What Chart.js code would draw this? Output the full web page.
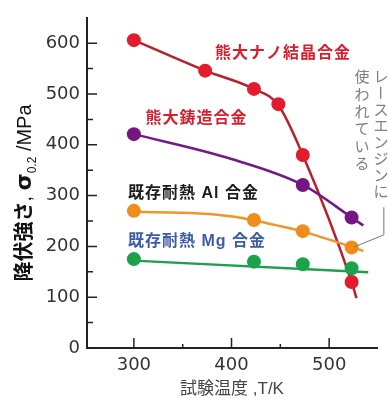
<!DOCTYPE html>
<html>
<head>
<meta charset="utf-8">
<script src="https://cdn.jsdelivr.net/npm/chart.js@4.4.1/dist/chart.umd.min.js"></script>
<style>
html, body { margin: 0; padding: 0; background: #fff; }
#wrap { width: 388px; height: 398px; position: relative; }
</style>
</head>
<body>
<div id="wrap"><canvas id="myChart"></canvas></div>
<script>
// mesures (points) : temperature K / limite elastique MPa
const tempNano = [300, 373, 423, 448, 473, 523];
const valNano  = [606, 546, 510, 480, 380, 130];
const tempCast = [300, 473, 523];
const valCast  = [421, 321, 257];
const tempAl   = [300, 423, 473, 523];
const valAl    = [270, 252, 230, 198];
const tempMg   = [300, 423, 473, 523];
const valMg    = [175, 170, 165, 157];

// courbes lissees
const courbeNanoT = [300, 373, 423, 448, 473, 523, 528];
const courbeNanoV = [606, 546, 510, 478, 380, 130, 98];
const courbeCastT = [300, 400, 473, 523, 535];
const courbeCastV = [421, 372, 321, 257, 241];
const courbeAlT   = [300, 367, 401, 423, 473, 523, 535];
const courbeAlV   = [268, 265, 259, 251, 229, 199, 191];
const courbeMgT   = [300, 540];
const courbeMgV   = [172, 149];

// axes
const xTicks = [300, 400, 500];
const xMinor = [350, 450];
const yTicks = [0, 100, 200, 300, 400, 500, 600];
const yMinor = [50, 150, 250, 350, 450, 550];

// etiquettes
const labelTexts  = ['熊大ナノ結晶合金', '熊大鋳造合金', '既存耐熱 Al 合金', '既存耐熱 Mg 合金'];
const labelColors = ['#d61f2c', '#d61f2c', '#1c1c1c', '#3d5ca8'];
const labelT = [383, 312, 294, 294];
const labelV = [579, 451, 304, 209];
const noteCols = ['レースエンジンに', '使われている'];
const bracketT = [525.6, 556, 556];
const bracketV = [199, 222.6, 277];

function pts(xs, ys) {
    return xs.map((x, i) => ({ x: x, y: ys[i] }));
}

function courbe(xs, ys, color, order) {
    return {
        data: pts(xs, ys),
        showLine: true,
        borderColor: color,
        borderWidth: 2.5,
        pointRadius: 0,
        cubicInterpolationMode: 'monotone',
        order: order
    };
}

function points(xs, ys, color) {
    return {
        data: pts(xs, ys),
        showLine: false,
        backgroundColor: color,
        borderColor: color,
        borderWidth: 0,
        pointRadius: 7,
        pointHoverRadius: 7,
        order: 1
    };
}

const cjk = '"Noto Sans CJK JP", sans-serif';

// ticks vers l'interieur, titre Y, annotations
const extras = {
    id: 'extras',
    afterDraw(chart) {
        const ctx = chart.ctx;
        const xs = chart.scales.x;
        const ys = chart.scales.y;
        const area = chart.chartArea;
        ctx.save();
        ctx.strokeStyle = '#222';
        ctx.lineWidth = 1.5;
        ctx.beginPath();
        yTicks.forEach(v => {
            const py = ys.getPixelForValue(v);
            ctx.moveTo(area.left, py); ctx.lineTo(area.left + 10, py);
        });
        yMinor.forEach(v => {
            const py = ys.getPixelForValue(v);
            ctx.moveTo(area.left, py); ctx.lineTo(area.left + 6, py);
        });
        xTicks.forEach(v => {
            const px = xs.getPixelForValue(v);
            ctx.moveTo(px, area.bottom); ctx.lineTo(px, area.bottom - 10);
        });
        xMinor.forEach(v => {
            const px = xs.getPixelForValue(v);
            ctx.moveTo(px, area.bottom); ctx.lineTo(px, area.bottom - 4);
        });
        ctx.stroke();

        // titre axe Y avec indice
        const runs = [
            { t: '降伏強さ', f: 'bold 20px ' + cjk, dy: 0 },
            { t: ', ', f: '20px "Liberation Sans"', dy: 0 },
            { t: 'σ', f: 'bold 22px "DejaVu Sans"', dy: 0 },
            { t: '0.2', f: '12px "Liberation Sans"', dy: 5 },
            { t: ' /MPa', f: '20px "Liberation Sans"', dy: 0 }
        ];
        let total = 0;
        runs.forEach(r => { ctx.font = r.f; r.w = ctx.measureText(r.t).width; total += r.w; });
        ctx.translate(24, 193);
        ctx.rotate(-Math.PI / 2);
        ctx.fillStyle = '#111';
        ctx.textBaseline = 'alphabetic';
        ctx.textAlign = 'left';
        let cx = -total / 2;
        runs.forEach(r => {
            ctx.font = r.f;
            ctx.fillText(r.t, cx, 7 + r.dy);
            cx += r.w;
        });
        ctx.setTransform(1, 0, 0, 1, 0, 0);
        ctx.restore();

        // noms des alliages
        ctx.save();
        ctx.textBaseline = 'middle';
        ctx.textAlign = 'left';
        ctx.letterSpacing = '1px';
        labelTexts.forEach((t, i) => {
            ctx.font = 'bold 16px "Liberation Sans", ' + cjk;
            ctx.fillStyle = labelColors[i];
            ctx.fillText(t, xs.getPixelForValue(labelT[i]), ys.getPixelForValue(labelV[i]));
        });
        ctx.restore();

        // texte vertical
        ctx.save();
        ctx.font = '15px ' + cjk;
        ctx.fillStyle = '#808080';
        ctx.textAlign = 'center';
        ctx.textBaseline = 'middle';
        const colX = [381, 362];
        const pitch = [16.5, 17.3];
        noteCols.forEach((col, c) => {
            for (let i = 0; i < col.length; i++) {
                const ch = col[i];
                ctx.save();
                ctx.translate(colX[c], 68 + pitch[c] * i + pitch[c] / 2);
                if (ch === 'ー') ctx.rotate(Math.PI / 2);
                ctx.fillText(ch, 0, 0);
                ctx.restore();
            }
        });
        // crochet vers le point orange
        ctx.strokeStyle = '#777';
        ctx.lineWidth = 1;
        ctx.beginPath();
        bracketT.forEach((t, i) => {
            const px = xs.getPixelForValue(t), py = ys.getPixelForValue(bracketV[i]);
            if (i === 0) ctx.moveTo(px, py); else ctx.lineTo(px, py);
        });
        ctx.stroke();
        ctx.restore();
    }
};

const ctx = document.getElementById('myChart').getContext('2d');
const myChart = new Chart(ctx, {
    type: 'scatter',
    data: {
        datasets: [
            courbe(courbeNanoT, courbeNanoV, '#b8202b', 9),
            courbe(courbeCastT, courbeCastV, '#741889', 5),
            courbe(courbeAlT, courbeAlV, '#f0952a', 5),
            courbe(courbeMgT, courbeMgV, '#1f9e4c', 5),
            points(tempNano, valNano, '#e41b2c'),
            points(tempCast, valCast, '#761683'),
            points(tempAl, valAl, '#f08c1c'),
            points(tempMg, valMg, '#1aa34a')
        ]
    },
    plugins: [extras],
    options: {
        responsive: true,
        maintainAspectRatio: false,
        animation: false,
        events: [],
        layout: { padding: { top: 12, right: 11, left: 0, bottom: 0 } },
        plugins: {
            legend: { display: false },
            tooltip: { enabled: false }
        },
        scales: {
            x: {
                type: 'linear',
                min: 252,
                max: 549,
                afterBuildTicks: s => { s.ticks = xTicks.map(v => ({ value: v })); },
                afterFit: s => { s.height = 50; },
                grid: { display: false, drawTicks: false },
                border: { color: '#222', width: 2 },
                ticks: {
                    color: '#333',
                    padding: 7,
                    maxRotation: 0,
                    autoSkip: false,
                    font: { family: '"DejaVu Sans"', size: 18 }
                },
                title: {
                    display: true,
                    text: '試験温度 ,T/K',
                    color: '#444',
                    padding: { top: 0, bottom: 0 },
                    font: { family: '"Liberation Sans", ' + cjk, size: 17, lineHeight: 1 }
                }
            },
            y: {
                type: 'linear',
                min: 0,
                max: 650,
                afterBuildTicks: s => { s.ticks = yTicks.map(v => ({ value: v })); },
                afterFit: s => { s.width = 87; },
                grid: { display: false, drawTicks: false },
                border: { color: '#222', width: 2 },
                ticks: {
                    color: '#333',
                    padding: 7,
                    autoSkip: false,
                    font: { family: '"DejaVu Sans"', size: 18 }
                }
            }
        }
    }
});
</script>
</body>
</html>
